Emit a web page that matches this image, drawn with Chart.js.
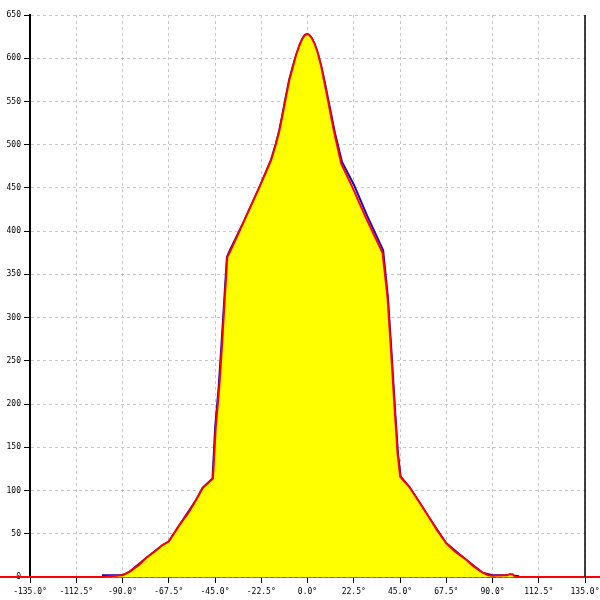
<!DOCTYPE html>
<html>
<head>
<meta charset="utf-8">
<script src="https://cdn.jsdelivr.net/npm/chart.js@4/dist/chart.umd.min.js"></script>
<style>
  html, body { margin: 0; padding: 0; background: #fff; }
  #wrap { width: 600px; height: 600px; }
</style>
</head>
<body>
<div id="wrap"><canvas id="myChart"></canvas></div>
<script>
// angles (deg) and counts
const anglesRed = [-150, -100, -90, -86.6, -82, -78.5, -74, -70.5, -67.5, -62.3, -58, -54.2, -51, -46,
  -44.6, -42.9, -41.5, -40.2, -39, -37.7, -30.6, -23, -17.7, -15.2, -13.6, -12, -10.4, -8.8, -7.1,
  -5.5, -3.9, -2.6, -1.4, -0.3, 0.8, 1.9, 3.4, 5, 6.7, 8.3, 9.9, 11.5, 13.1, 16.4, 22, 28.7, 36.5, 38.9, 40.7,
  42.3, 43.8, 45.1, 49.6, 54, 59.4, 63, 67.5, 72, 77.2, 81, 85.2, 88, 90, 97.3, 98.5, 100, 101, 150];
const valuesRed = [0, 0, 2, 6, 14, 22, 30, 37, 41, 60, 74, 89, 103, 114,
  174, 220, 271, 324, 370, 376, 413, 453, 482, 502, 517, 536, 556, 575, 590,
  604, 615, 622, 626.5, 628, 627, 624, 617, 606, 590, 571, 552, 532, 513, 478, 450, 414, 375, 324, 259,
  197, 143, 116, 104, 88, 68, 54, 39, 29, 20, 12, 5, 2, 1.5, 2, 3.5, 3, 0, 0];

const anglesBlue = [-100, -90, -86.6, -78.5, -70.5, -67.5, -62.3, -54.2, -51, -46.2,
  -44.9, -43.2, -41.8, -40.4, -39.2, -37.9, -30.6, -23, -17.8, -15.3, -13.7, -12.1, -10.5, -8.9, -7.2,
  -5.5, -3.9, -2.6, -1.4, -0.3, 0.8, 1.9, 3.4, 5, 6.8, 8.5, 10.1, 11.8, 13.4, 16.8, 22.5, 29, 36.8, 39.1, 40.9,
  42.5, 44, 45.3, 49.6, 59.4, 67.5, 77.2, 85.2, 90, 97.3, 103];
const valuesBlue = [2, 2, 6, 22, 37, 41, 60, 89, 103, 114,
  174, 220, 271, 324, 370, 377, 413, 453, 482, 502, 517, 536, 556, 575, 590,
  604, 615, 622, 626.5, 628, 627, 624, 617, 606, 590, 571, 552, 532, 513, 480, 454, 418, 378, 324, 259,
  197, 143, 116, 104, 68, 39, 20, 5, 2, 2, 1];

const xTickStep = 22.5;
const yTickStep = 50;

function toPoints(xs, ys) {
  return xs.map((x, i) => ({ x: x, y: ys[i] }));
}

const monoFont = { family: '"DejaVu Sans Mono", monospace', size: 8 };

const rightBorder = {
  id: 'rightBorder',
  afterDraw(chart) {
    const a = chart.chartArea;
    const c = chart.ctx;
    c.save();
    c.strokeStyle = '#000';
    c.lineWidth = 1.5;
    c.beginPath();
    c.moveTo(a.right, a.top);
    c.lineTo(a.right, a.bottom);
    c.stroke();
    c.restore();
  }
};

window.onload = (event) => {

var myChart = new Chart(
  document.getElementById('myChart'),
  {
    type: 'line',
    data: {
      datasets: [{
        label: 'red',
        data: toPoints(anglesRed, valuesRed),
        borderColor: '#ff0000',
        backgroundColor: '#ffff00',
        borderWidth: 2,
        fill: 'origin',
        pointRadius: 0,
        tension: 0,
        clip: false
      },
      {
        label: 'blue',
        data: toPoints(anglesBlue, valuesBlue),
        borderColor: '#1a00c8',
        borderWidth: 2,
        fill: false,
        pointRadius: 0,
        tension: 0
      }]
    },
    options: {
      responsive: true,
      maintainAspectRatio: false,
      animation: false,
      layout: { padding: { top: 15, right: 15, left: 0, bottom: 0 } },
      plugins: {
        legend: { display: false },
        tooltip: { enabled: false }
      },
      scales: {
        x: {
          type: 'linear',
          min: -135,
          max: 135,
          afterFit: (s) => { s.height = 23; s.paddingLeft = 0; s.paddingRight = 0; },
          ticks: {
            stepSize: xTickStep,
            autoSkip: false,
            maxRotation: 0,
            color: '#000',
            font: monoFont,
            padding: 4,
            callback: (v) => v.toFixed(1) + '°'
          },
          grid: { color: '#c8c8c8', tickColor: '#000', tickLength: 6 },
          border: { color: '#000', width: 1.5, dash: [3, 3] }
        },
        y: {
          min: 0,
          max: 650,
          afterFit: (s) => { s.width = 30; },
          ticks: {
            stepSize: yTickStep,
            color: '#000',
            font: monoFont,
            padding: 3
          },
          grid: { color: '#c8c8c8', tickColor: '#000', tickLength: 6 },
          border: { color: '#000', width: 2, dash: [3, 3] }
        }
      }
    },
    plugins: [rightBorder]
  }
);

};
</script>
</body>
</html>
